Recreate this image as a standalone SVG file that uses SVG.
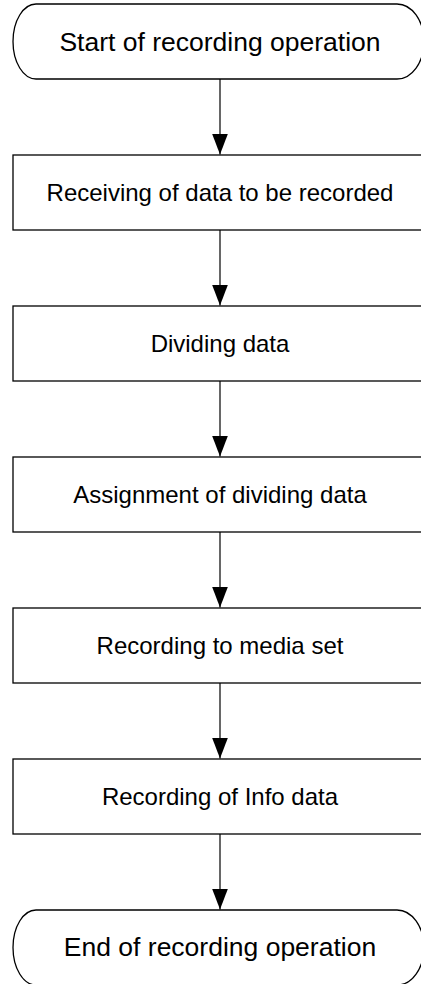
<svg xmlns="http://www.w3.org/2000/svg" width="421" height="984" viewBox="0 0 421 984">
<defs>
<marker id="ah" markerWidth="21" markerHeight="16" refX="21" refY="8" orient="auto" markerUnits="userSpaceOnUse" viewBox="0 0 21 16">
<path d="M0,0 L21,8 L0,16 Z" fill="#000"/>
</marker>
</defs>
<style>
.box{fill:#fff;stroke:#000;stroke-width:1.3}
.t{font-family:"Liberation Sans",Arial,sans-serif;fill:#000;text-anchor:middle}
.tt{font-size:26.5px}
.tb{font-size:24px}
.c{stroke:#000;stroke-width:1.2;fill:none}
</style>
<rect width="421" height="984" fill="#fff"/>
<g id="connectors">
<line class="c" x1="220" y1="79" x2="220" y2="154.5" marker-end="url(#ah)"/>
<line class="c" x1="220" y1="230" x2="220" y2="305.5" marker-end="url(#ah)"/>
<line class="c" x1="220" y1="381" x2="220" y2="456.5" marker-end="url(#ah)"/>
<line class="c" x1="220" y1="532" x2="220" y2="607.5" marker-end="url(#ah)"/>
<line class="c" x1="220" y1="683" x2="220" y2="758.5" marker-end="url(#ah)"/>
<line class="c" x1="220" y1="834" x2="220" y2="909.5" marker-end="url(#ah)"/>
</g>
<g id="start">
<path class="box" d="M36,4 H397 A27,37.5 0 0 1 397,79 H36 A23,37.5 0 0 1 36,4 Z"/>
<text class="t tt" x="220" y="51">Start of recording operation</text>
</g>
<g id="receiving">
<rect class="box" x="13" y="155" width="416" height="75"/>
<text class="t tb" x="220" y="201">Receiving of data to be recorded</text>
</g>
<g id="dividing">
<rect class="box" x="13" y="306" width="416" height="75"/>
<text class="t tb" x="220" y="352">Dividing data</text>
</g>
<g id="assignment">
<rect class="box" x="13" y="457" width="416" height="75"/>
<text class="t tb" x="220" y="503">Assignment of dividing data</text>
</g>
<g id="recording-media">
<rect class="box" x="13" y="608" width="416" height="75"/>
<text class="t tb" x="220" y="654">Recording to media set</text>
</g>
<g id="recording-info">
<rect class="box" x="13" y="759" width="416" height="75"/>
<text class="t tb" x="220" y="805">Recording of Info data</text>
</g>
<g id="end">
<path class="box" d="M36,910 H397 A27,37.5 0 0 1 397,985 H36 A23,37.5 0 0 1 36,910 Z"/>
<text class="t tt" x="220" y="956">End of recording operation</text>
</g>
</svg>
